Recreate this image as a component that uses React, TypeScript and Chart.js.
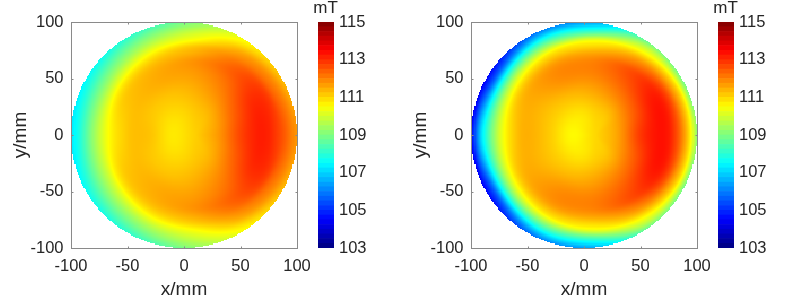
import React, { useEffect, useRef } from "react";
import { Chart, registerables } from "chart.js";

Chart.register(...registerables);

const fieldCentre = { x: 10, y: 0 };
const radii = [0, 20, 40, 55, 65, 72, 78, 84, 90, 96, 102, 110];
const angles = [0, 30, 60, 90, 120, 150, 180, 210, 240, 270, 300, 330];

const fieldLeft = [
  [111.05, 111.7, 112.7, 113.15, 113.1, 112.8, 112.5, 112.1, 111.7, 111.3, 110.9, 110.4],
  [111.05, 111.55, 112.4, 112.95, 113.0, 112.8, 112.3, 111.9, 111.4, 111.0, 110.6, 110.0],
  [111.05, 111.3, 111.85, 112.2, 112.4, 112.25, 111.9, 111.5, 110.9, 110.4, 109.9, 109.4],
  [111.05, 111.15, 111.45, 111.7, 111.8, 111.5, 111.2, 110.5, 110.0, 109.4, 108.8, 107.8],
  [111.05, 110.95, 111.2, 111.5, 111.5, 111.3, 110.9, 110.3, 109.6, 109.0, 108.4, 107.6],
  [111.05, 110.8, 111.1, 111.3, 111.25, 111.1, 110.7, 110.0, 109.3, 108.7, 108.1, 107.4],
  [111.05, 110.75, 111.2, 111.25, 111.0, 110.75, 110.4, 109.9, 109.3, 108.6, 107.9, 107.2],
  [111.05, 110.8, 111.1, 111.3, 111.25, 111.1, 110.7, 110.0, 109.4, 108.8, 108.2, 107.5],
  [111.05, 110.95, 111.2, 111.5, 111.5, 111.3, 110.9, 110.3, 109.6, 109.0, 108.4, 107.6],
  [111.05, 111.15, 111.45, 111.7, 111.8, 111.5, 111.1, 110.5, 110.0, 109.5, 108.9, 108.0],
  [111.05, 111.3, 111.85, 112.2, 112.4, 112.25, 111.9, 111.5, 110.9, 110.4, 109.9, 109.4],
  [111.05, 111.55, 112.4, 112.95, 113.0, 112.8, 112.3, 111.9, 111.4, 111.0, 110.6, 110.0],
];

const fieldRight = [
  [110.95, 111.6, 112.85, 113.3, 113.2, 112.6, 111.8, 110.7, 109.2, 107.8, 106.5, 105.0],
  [110.95, 111.5, 112.45, 113.15, 113.2, 112.7, 111.8, 110.8, 109.2, 107.8, 106.5, 105.0],
  [110.95, 111.2, 112.0, 112.5, 112.6, 112.1, 111.5, 110.6, 109.7, 108.5, 107.2, 105.5],
  [110.95, 111.05, 111.6, 112.0, 112.0, 111.6, 111.0, 110.3, 108.6, 107.2, 106.0, 104.8],
  [110.95, 110.8, 111.3, 111.8, 111.9, 111.7, 111.2, 110.5, 109.2, 107.8, 106.4, 105.0],
  [110.95, 110.65, 111.1, 111.4, 111.5, 111.4, 111.0, 110.2, 109.0, 107.4, 105.6, 104.3],
  [110.95, 110.55, 111.1, 111.4, 111.4, 111.1, 110.7, 110.1, 109.2, 108.1, 106.8, 104.3],
  [110.95, 110.65, 111.1, 111.4, 111.5, 111.4, 111.0, 110.2, 109.0, 107.4, 105.6, 104.3],
  [110.95, 110.8, 111.3, 111.8, 111.9, 111.7, 111.2, 110.5, 109.2, 107.8, 106.4, 105.0],
  [110.95, 111.05, 111.6, 112.0, 112.0, 111.6, 111.0, 110.3, 108.7, 107.3, 106.1, 104.9],
  [110.95, 111.2, 112.0, 112.5, 112.6, 112.1, 111.5, 110.6, 109.7, 108.5, 107.2, 105.5],
  [110.95, 111.5, 112.45, 113.15, 113.2, 112.7, 111.8, 110.8, 109.2, 107.8, 106.5, 105.0],
];

const axisTicks = [-100, -50, 0, 50, 100];
const barTicks = [103, 105, 107, 109, 111, 113, 115];
const barLevels = [
  103, 103.25, 103.5, 103.75, 104, 104.25, 104.5, 104.75, 105, 105.25, 105.5, 105.75,
  106, 106.25, 106.5, 106.75, 107, 107.25, 107.5, 107.75, 108, 108.25, 108.5, 108.75,
  109, 109.25, 109.5, 109.75, 110, 110.25, 110.5, 110.75, 111, 111.25, 111.5, 111.75,
  112, 112.25, 112.5, 112.75, 113, 113.25, 113.5, 113.75, 114, 114.25, 114.5, 114.75,
];
const barStep = 0.25;
const unitLabel = "mT";
const xTitle = "x/mm";
const yTitle = "y/mm";

const FONT = "'Liberation Sans', Arial, sans-serif";
const INK = "#262626";
const FRAME = "#8a8a8a";
const CELL = 1;

function jet(v: number): string {
  const t = Math.min(1, Math.max(0, (v - 103) / 12));
  const c = (x: number) => Math.round(255 * Math.min(1, Math.max(0, x)));
  const r = c(Math.min(4 * t - 1.5, -4 * t + 4.5));
  const g = c(Math.min(4 * t - 0.5, -4 * t + 3.5));
  const b = c(Math.min(4 * t + 0.5, -4 * t + 2.5));
  return `rgb(${r},${g},${b})`;
}

function catmull(p0: number, p1: number, p2: number, p3: number, t: number): number {
  return 0.5 * (2 * p1 + (p2 - p0) * t + (2 * p0 - 5 * p1 + 4 * p2 - p3) * t * t + (3 * p1 - p0 - 3 * p2 + p3) * t * t * t);
}

function slope(row: number[], j: number): number {
  const a = Math.max(0, j - 1);
  const b = Math.min(radii.length - 1, j + 1);
  return (row[b] - row[a]) / (radii[b] - radii[a]);
}

function radial(row: number[], j: number, r: number): number {
  const h = radii[j + 1] - radii[j];
  const t = Math.min(1, (r - radii[j]) / h);
  const t2 = t * t;
  const t3 = t2 * t;
  return (
    (2 * t3 - 3 * t2 + 1) * row[j] +
    (t3 - 2 * t2 + t) * h * slope(row, j) +
    (-2 * t3 + 3 * t2) * row[j + 1] +
    (t3 - t2) * h * slope(row, j + 1)
  );
}

function shade(field: number[][], x: number, y: number): number {
  const dx = x - fieldCentre.x;
  const dy = y - fieldCentre.y;
  const r = Math.hypot(dx, dy);
  let a = (Math.atan2(dy, dx) * 180) / Math.PI;
  if (a < 0) a += 360;
  const n = angles.length;
  const step = angles[1] - angles[0];
  const i = Math.floor(a / step) % n;
  const fa = (a - angles[i]) / step;
  let j = 0;
  while (j < radii.length - 2 && r > radii[j + 1]) j++;
  const ring = (k: number) => radial(field[(k + n) % n], j, r);
  return catmull(ring(i - 1), ring(i), ring(i + 1), ring(i + 2), fa);
}

function samples(field: number[][]) {
  const out: { x: number; y: number; v: number }[] = [];
  angles.forEach((a, i) =>
    radii.forEach((r, j) =>
      out.push({
        x: fieldCentre.x + r * Math.cos((a * Math.PI) / 180),
        y: fieldCentre.y + r * Math.sin((a * Math.PI) / 180),
        v: field[i][j],
      })
    )
  );
  return out;
}

const heatPlugin = (field: number[][]) => ({
  id: "heat",
  beforeDatasetsDraw(chart: any) {
    const { ctx, scales } = chart;
    const sx = scales.x;
    const sy = scales.y;
    ctx.save();
    for (let gx = -100; gx < 100; gx += CELL) {
      for (let gy = -100; gy < 100; gy += CELL) {
        const cx = gx + CELL / 2;
        const cy = gy + CELL / 2;
        if (Math.hypot(cx, cy) > 100) continue;
        const l = Math.round(sx.getPixelForValue(gx));
        const rr = Math.round(sx.getPixelForValue(gx + CELL));
        const t = Math.round(sy.getPixelForValue(gy + CELL));
        const b = Math.round(sy.getPixelForValue(gy));
        ctx.fillStyle = jet(shade(field, cx, cy));
        ctx.fillRect(l, t, rr - l, b - t);
      }
    }
    ctx.restore();
  },
});

const framePlugin = {
  id: "frame",
  afterDraw(chart: any) {
    const { ctx, chartArea: a, scales } = chart;
    const L = a.left + 0.5;
    const R = a.right + 0.5;
    const T = a.top + 0.5;
    const B = a.bottom + 0.5;
    ctx.save();
    ctx.strokeStyle = FRAME;
    ctx.lineWidth = 1;
    ctx.strokeRect(L, T, R - L, B - T);
    ctx.beginPath();
    axisTicks.forEach((v) => {
      const px = Math.round(scales.x.getPixelForValue(v)) + 0.5;
      const py = Math.round(scales.y.getPixelForValue(v)) + 0.5;
      ctx.moveTo(px, B); ctx.lineTo(px, B - 2);
      ctx.moveTo(px, T); ctx.lineTo(px, T + 2);
      ctx.moveTo(L, py); ctx.lineTo(L + 2, py);
      ctx.moveTo(R, py); ctx.lineTo(R - 2, py);
    });
    ctx.stroke();
    ctx.restore();
  },
};

const unitPlugin = {
  id: "unit",
  afterDraw(chart: any) {
    const { ctx, chartArea: a } = chart;
    ctx.save();
    ctx.fillStyle = INK;
    ctx.font = `17px ${FONT}`;
    ctx.textAlign = "center";
    ctx.textBaseline = "alphabetic";
    ctx.fillText(unitLabel, (a.left + a.right) / 2 - 0.5, 13);
    ctx.restore();
  },
};

function makeHeat(canvas: HTMLCanvasElement, field: number[][]) {
  return new Chart(canvas, {
    type: "scatter",
    data: {
      datasets: [{ label: "B", data: samples(field), pointRadius: 0, pointHoverRadius: 0 }],
    },
    options: {
      animation: false,
      responsive: false,
      layout: { padding: { left: 0, top: 22, right: 43, bottom: 0 } },
      plugins: { legend: { display: false }, tooltip: { enabled: false } },
      scales: {
        x: {
          type: "linear",
          min: -100,
          max: 100,
          afterFit: (s: any) => { s.height = 52; s.paddingLeft = 0; s.paddingRight = 0; },
          afterBuildTicks: (s: any) => { s.ticks = axisTicks.map((value) => ({ value })); },
          grid: { display: false, drawTicks: false },
          border: { display: false },
          ticks: { color: INK, font: { family: FONT, size: 16.5 }, maxRotation: 0, padding: 9 },
          title: { display: true, text: xTitle, color: INK, font: { family: FONT, size: 19 }, padding: { top: 0, bottom: -1 } },
        },
        y: {
          type: "linear",
          min: -100,
          max: 100,
          afterFit: (s: any) => { s.width = 71; s.paddingTop = 0; s.paddingBottom = 0; },
          afterBuildTicks: (s: any) => { s.ticks = axisTicks.map((value) => ({ value })); },
          grid: { display: false, drawTicks: false },
          border: { display: false },
          ticks: { color: INK, font: { family: FONT, size: 16.5 }, padding: 7.5 },
          title: { display: true, text: yTitle, color: INK, font: { family: FONT, size: 19 }, padding: { top: 9, bottom: 0 } },
        },
      },
    },
    plugins: [heatPlugin(field), framePlugin],
  } as any);
}

function makeBar(canvas: HTMLCanvasElement) {
  return new Chart(canvas, {
    type: "bar",
    data: {
      labels: ["bar"],
      datasets: barLevels.map((v) => ({
        label: String(v),
        data: [[v, v + barStep]],
        backgroundColor: jet(v + barStep / 2),
        borderWidth: 0,
        barPercentage: 1,
        categoryPercentage: 1,
        stack: "bar",
      })),
    },
    options: {
      animation: false,
      responsive: false,
      layout: { padding: { left: 18, top: 22, right: 0, bottom: 52 } },
      plugins: { legend: { display: false }, tooltip: { enabled: false } },
      scales: {
        x: { display: false, stacked: true },
        y: {
          position: "right",
          stacked: false,
          min: 103,
          max: 115,
          afterFit: (s: any) => { s.width = 46; s.paddingTop = 0; s.paddingBottom = 0; },
          afterBuildTicks: (s: any) => { s.ticks = barTicks.map((value) => ({ value })); },
          grid: { display: false, drawTicks: false },
          border: { display: false },
          ticks: { color: INK, font: { family: FONT, size: 16.5 }, padding: 5 },
        },
      },
    },
    plugins: [unitPlugin],
  } as any);
}

function Panel({ left, field }: { left: number; field: number[][] }) {
  const heatRef = useRef<HTMLCanvasElement>(null);
  const barRef = useRef<HTMLCanvasElement>(null);
  useEffect(() => {
    const a = makeHeat(heatRef.current!, field);
    const b = makeBar(barRef.current!);
    return () => {
      a.destroy();
      b.destroy();
    };
  }, [field]);
  return (
    <>
      <canvas ref={heatRef} width={340} height={300} style={{ position: "absolute", left, top: 0, width: 340, height: 300 }} />
      <canvas ref={barRef} width={80} height={300} style={{ position: "absolute", left: left + 300, top: 0, width: 80, height: 300 }} />
    </>
  );
}

export default function App() {
  return (
    <div style={{ position: "fixed", left: 0, top: 0, width: 800, height: 300, background: "#fff", overflow: "hidden" }}>
      <Panel left={0} field={fieldLeft} />
      <Panel left={400} field={fieldRight} />
    </div>
  );
}
